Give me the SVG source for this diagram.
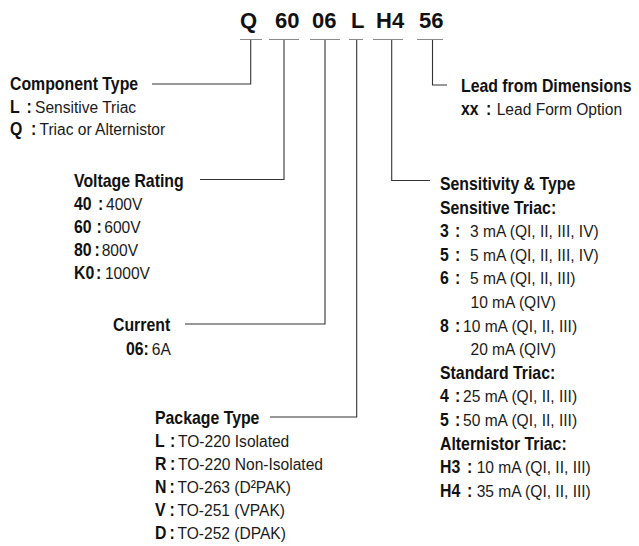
<svg xmlns="http://www.w3.org/2000/svg" width="639" height="546" viewBox="0 0 639 546">
<style>
text { font-family: "Liberation Sans", Arial, sans-serif; font-size: 17.3px; fill: #1a1a1a; }
.b { font-weight: bold; font-size: 17.6px; fill: #111; }
.code { font-weight: bold; font-size: 22px; fill: #111; }
.ul { stroke: #8a8a8a; stroke-width: 1.2; fill: none; }
.c { stroke: #333; stroke-width: 1.1; fill: none; }
</style>
<rect width="639" height="546" fill="#fff"/>
<g id="code">
<text class="code" x="240" y="28">Q</text>
<text class="code" x="275" y="28">60</text>
<text class="code" x="312" y="28">06</text>
<text class="code" x="351" y="28">L</text>
<text class="code" x="376" y="28">H4</text>
<text class="code" x="419" y="28">56</text>
<path class="ul" d="M240 39.5H262M269 39.5H299M310 39.5H340M349 39.5H363M373 39.5H403M417 39.5H443"/>
</g>
<g id="connectors">
<path class="c" d="M250.7 40V84H152"/>
<path class="c" d="M284 40V179.5H200"/>
<path class="c" d="M325 40V324H185"/>
<path class="c" d="M356.7 40V417H270"/>
<path class="c" d="M391.7 40V180.5H430"/>
<path class="c" d="M432.5 40V85H447"/>
</g>
<g id="component-type">
<text class="b" x="10" y="90" transform="matrix(0.9 0 0 1 1 0)">Component Type</text>
<text x="10" y="113" transform="matrix(0.9 0 0 1 1 0)"><tspan class="b">L</tspan><tspan class="b" x="28.3">:</tspan><tspan x="37.8">Sensitive Triac</tspan></text>
<text x="10" y="135" transform="matrix(0.9 0 0 1 1 0)"><tspan class="b">Q</tspan><tspan class="b" x="33.3">:</tspan><tspan x="42.8">Triac or Alternistor</tspan></text>
</g>
<g id="voltage-rating">
<text class="b" x="74" y="187" transform="matrix(0.9 0 0 1 7.4 0)">Voltage Rating</text>
<text x="74" y="210" transform="matrix(0.9 0 0 1 7.4 0)"><tspan class="b">40</tspan><tspan class="b" x="100.7">:</tspan><tspan x="109.6">400V</tspan></text>
<text x="74" y="233" transform="matrix(0.9 0 0 1 7.4 0)"><tspan class="b">60</tspan><tspan class="b" x="99">:</tspan><tspan x="107.7">600V</tspan></text>
<text x="74" y="256" transform="matrix(0.9 0 0 1 7.4 0)"><tspan class="b">80</tspan><tspan class="b" x="96.8">:</tspan><tspan x="104.8">800V</tspan></text>
<text x="74" y="279" transform="matrix(0.9 0 0 1 7.4 0)"><tspan class="b">K0</tspan><tspan class="b" x="98.4">:</tspan><tspan x="108.4">1000V</tspan></text>
</g>
<g id="current">
<text class="b" x="113" y="331" transform="matrix(0.9 0 0 1 11.3 0)">Current</text>
<text x="126" y="355" transform="matrix(0.9 0 0 1 12.6 0)"><tspan class="b">06:</tspan><tspan x="154.6">6A</tspan></text>
</g>
<g id="package-type">
<text class="b" x="155" y="424" transform="matrix(0.9 0 0 1 15.5 0)">Package Type</text>
<text x="155" y="447" transform="matrix(0.9 0 0 1 15.5 0)"><tspan class="b">L</tspan><tspan class="b" x="171.7">:</tspan><tspan x="180.6">TO-220 Isolated</tspan></text>
<text x="155" y="470" transform="matrix(0.9 0 0 1 15.5 0)"><tspan class="b">R</tspan><tspan class="b" x="171.7">:</tspan><tspan x="180.6">TO-220 Non-Isolated</tspan></text>
<text x="155" y="493" transform="matrix(0.9 0 0 1 15.5 0)"><tspan class="b">N</tspan><tspan class="b" x="171.1">:</tspan><tspan x="180">TO-263 (D²PAK)</tspan></text>
<text x="155" y="516" transform="matrix(0.9 0 0 1 15.5 0)"><tspan class="b">V</tspan><tspan class="b" x="171.1">:</tspan><tspan x="180">TO-251 (VPAK)</tspan></text>
<text x="155" y="539" transform="matrix(0.9 0 0 1 15.5 0)"><tspan class="b">D</tspan><tspan class="b" x="171.1">:</tspan><tspan x="180">TO-252 (DPAK)</tspan></text>
</g>
<g id="lead-form">
<text class="b" x="461" y="92" transform="matrix(0.9 0 0 1 46.1 0)">Lead from Dimensions</text>
<text x="461" y="115" transform="matrix(0.9 0 0 1 46.1 0)"><tspan class="b">xx</tspan><tspan class="b" x="488.8">:</tspan><tspan x="500.7">Lead Form Option</tspan></text>
</g>
<g id="sensitivity-type">
<text class="b" x="440" y="190" transform="matrix(0.9 0 0 1 44 0)">Sensitivity &amp; Type</text>
<text class="b" x="440" y="213.6" transform="matrix(0.9 0 0 1 44 0)">Sensitive Triac:</text>
<text x="440" y="237.2" transform="matrix(0.9 0 0 1 44 0)"><tspan class="b">3</tspan><tspan class="b" x="456.7">:</tspan><tspan x="473.3">3 mA (QI, II, III, IV)</tspan></text>
<text x="440" y="260.8" transform="matrix(0.9 0 0 1 44 0)"><tspan class="b">5</tspan><tspan class="b" x="456.7">:</tspan><tspan x="473.3">5 mA (QI, II, III, IV)</tspan></text>
<text x="440" y="284.4" transform="matrix(0.9 0 0 1 44 0)"><tspan class="b">6</tspan><tspan class="b" x="456.7">:</tspan><tspan x="473.3">5 mA (QI, II, III)</tspan></text>
<text x="470.5" y="308" transform="matrix(0.9 0 0 1 47.05 0)">10 mA (QIV)</text>
<text x="440" y="331.6" transform="matrix(0.9 0 0 1 44 0)"><tspan class="b">8</tspan><tspan class="b" x="456.7">:</tspan><tspan x="465.6">10 mA (QI, II, III)</tspan></text>
<text x="470.5" y="355.2" transform="matrix(0.9 0 0 1 47.05 0)">20 mA (QIV)</text>
<text class="b" x="440" y="378.8" transform="matrix(0.9 0 0 1 44 0)">Standard Triac:</text>
<text x="440" y="402.4" transform="matrix(0.9 0 0 1 44 0)"><tspan class="b">4</tspan><tspan class="b" x="456.7">:</tspan><tspan x="465.6">25 mA (QI, II, III)</tspan></text>
<text x="440" y="426" transform="matrix(0.9 0 0 1 44 0)"><tspan class="b">5</tspan><tspan class="b" x="456.7">:</tspan><tspan x="465.6">50 mA (QI, II, III)</tspan></text>
<text class="b" x="440" y="449.6" transform="matrix(0.9 0 0 1 44 0)">Alternistor Triac:</text>
<text x="440" y="473.2" transform="matrix(0.9 0 0 1 44 0)"><tspan class="b">H3</tspan><tspan class="b" x="470">:</tspan><tspan x="480.8">10 mA (QI, II, III)</tspan></text>
<text x="440" y="496.8" transform="matrix(0.9 0 0 1 44 0)"><tspan class="b">H4</tspan><tspan class="b" x="470">:</tspan><tspan x="480.8">35 mA (QI, II, III)</tspan></text>
</g>
</svg>
